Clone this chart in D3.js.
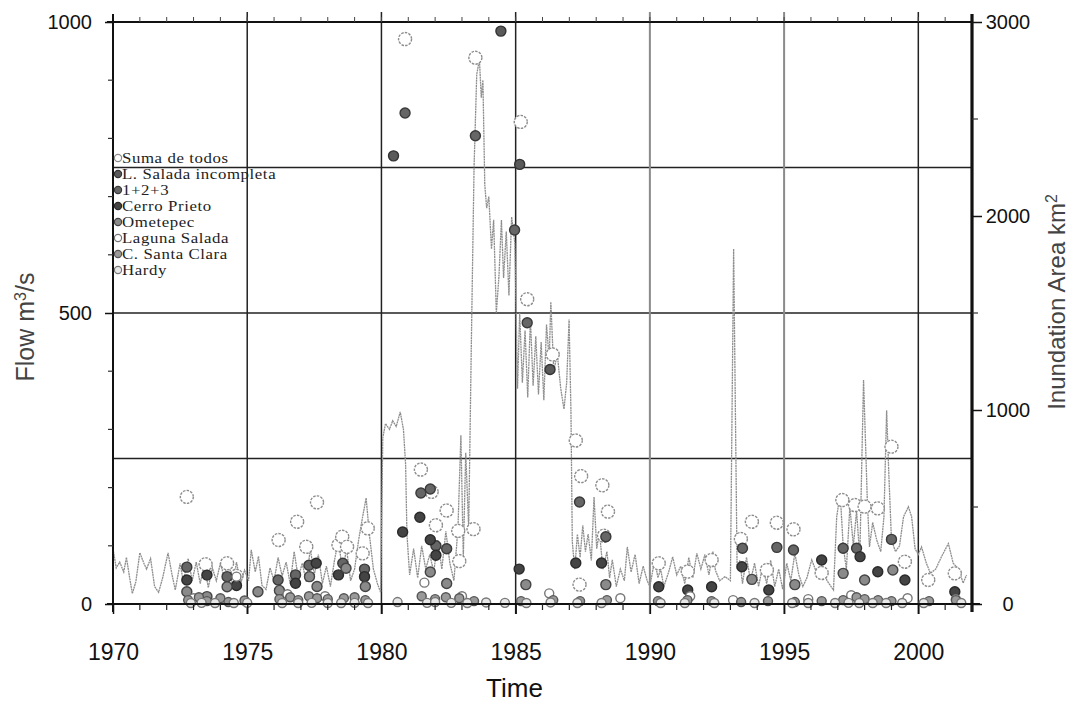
<!DOCTYPE html>
<html>
<head>
<meta charset="utf-8">
<script src="https://cdn.jsdelivr.net/npm/d3@7"></script>
<style>
  html, body { margin: 0; padding: 0; background: #fff; }
  svg { display: block; }
</style>
</head>
<body>
<svg id="chart" width="1073" height="702"></svg>
<script>
// flow (m3/s): [year, flow]
const flow = [
  [1970.00,95],[1970.12,62],[1970.25,72],[1970.40,55],[1970.50,80],[1970.62,45],[1970.72,18],[1970.85,38],
  [1971.00,88],[1971.15,70],[1971.25,60],[1971.40,78],[1971.55,30],[1971.70,20],[1971.85,45],
  [1972.05,88],[1972.20,50],[1972.32,24],[1972.50,70],[1972.62,38],[1972.80,78],[1972.95,40],
  [1973.10,72],[1973.25,35],[1973.40,68],[1973.55,28],[1973.70,62],[1973.85,40],
  [1974.00,70],[1974.15,45],[1974.30,80],[1974.45,30],[1974.60,72],[1974.75,35],[1974.90,58],
  [1975.05,40],[1975.15,93],[1975.30,55],[1975.42,82],[1975.55,32],[1975.70,25],[1975.85,62],
  [1976.00,40],[1976.15,80],[1976.30,48],[1976.45,72],[1976.60,35],[1976.75,90],[1976.90,45],
  [1977.05,70],[1977.20,38],[1977.35,95],[1977.50,50],[1977.65,85],[1977.80,35],[1977.95,65],
  [1978.10,30],[1978.25,75],[1978.40,110],[1978.55,55],[1978.70,95],[1978.85,40],
  [1979.00,60],[1979.15,110],[1979.30,150],[1979.43,182],[1979.55,120],[1979.70,60],[1979.85,35],[1979.97,20],
  [1980.05,285],[1980.15,310],[1980.30,300],[1980.42,315],[1980.55,305],[1980.70,330],[1980.82,300],[1980.90,240],[1980.95,120],
  [1981.05,50],[1981.20,95],[1981.35,45],[1981.50,100],[1981.65,60],[1981.80,85],[1981.95,55],
  [1982.10,110],[1982.25,60],[1982.40,125],[1982.55,70],[1982.70,40],[1982.85,130],[1982.96,290],
  [1983.05,80],[1983.14,260],[1983.25,130],[1983.35,450],[1983.45,750],[1983.55,910],[1983.65,935],[1983.72,870],[1983.78,900],[1983.85,720],[1983.92,680],
  [1984.00,700],[1984.10,610],[1984.18,660],[1984.28,500],[1984.38,565],[1984.47,660],[1984.55,560],[1984.65,640],[1984.75,530],[1984.85,665],[1984.97,620],
  [1985.07,370],[1985.15,500],[1985.25,380],[1985.35,470],[1985.45,355],[1985.55,490],[1985.65,375],[1985.75,460],[1985.85,360],[1985.95,450],
  [1986.05,350],[1986.15,480],[1986.25,420],[1986.31,519],[1986.42,400],[1986.55,430],[1986.68,370],[1986.80,335],[1986.90,380],[1986.99,489],
  [1987.06,330],[1987.11,107],[1987.20,60],[1987.30,120],[1987.40,80],[1987.50,135],[1987.60,90],[1987.70,120],[1987.82,75],[1987.92,184],
  [1988.02,95],[1988.12,125],[1988.25,60],[1988.40,90],[1988.50,45],[1988.60,76],[1988.75,30],[1988.90,60],
  [1989.05,40],[1989.16,98],[1989.30,55],[1989.45,85],[1989.60,35],[1989.75,65],[1989.90,40],
  [1990.00,30],[1990.18,76],[1990.30,45],[1990.40,60],[1990.52,30],[1990.70,55],[1990.85,81],
  [1991.00,50],[1991.15,65],[1991.30,35],[1991.45,80],[1991.60,45],[1991.75,87],[1991.90,60],
  [1992.05,85],[1992.20,50],[1992.35,90],[1992.44,58],[1992.60,40],[1992.80,47],[1993.00,40],
  [1993.12,610],[1993.25,60],[1993.35,75],[1993.45,35],[1993.60,80],[1993.75,40],[1993.90,70],
  [1994.05,30],[1994.20,65],[1994.35,35],[1994.50,75],[1994.65,30],[1994.80,60],[1994.95,25],
  [1995.10,70],[1995.25,40],[1995.40,87],[1995.55,50],[1995.70,30],[1995.85,45],
  [1996.03,76],[1996.20,55],[1996.40,65],[1996.60,40],[1996.75,30],[1996.84,24],[1996.96,150],
  [1997.09,190],[1997.20,100],[1997.32,60],[1997.45,167],[1997.58,100],[1997.70,160],[1997.82,80],[1997.96,385],
  [1998.10,179],[1998.18,98],[1998.30,140],[1998.45,110],[1998.60,90],[1998.72,150],[1998.82,333],[1998.90,225],
  [1999.00,110],[1999.15,90],[1999.30,100],[1999.45,150],[1999.63,167],[1999.75,150],[1999.88,95],
  [2000.00,85],[2000.12,98],[2000.30,70],[2000.45,53],[2000.65,60],[2000.85,80],
  [2001.12,104],[2001.30,70],[2001.50,60],[2001.67,36],[2001.80,50]
];

// inundation area (km2) per water body: [year, area]
const sumaTodos = [
  [1972.75,552],[1973.45,205],[1974.25,210],[1974.6,145],[1976.17,330],[1976.86,424],[1977.2,295],[1977.6,524],
  [1978.4,304],[1978.54,347],[1978.72,295],[1979.3,261],[1979.49,390],[1980.88,2912],[1981.47,693],[1981.87,578],
  [1982.03,406],[1982.43,482],[1982.86,377],[1982.9,221],[1983.43,386],[1983.5,2816],[1985.19,2485],[1985.43,1571],
  [1986.38,1286],[1987.24,843],[1987.44,659],[1988.23,612],[1988.44,476],[1988.29,352],[1987.38,100],[1990.33,210],
  [1991.41,167],[1992.3,227],[1993.39,335],[1993.8,424],[1994.36,175],[1994.73,419],[1995.35,385],[1996.4,160],
  [1997.17,536],[1997.64,510],[1998.0,502],[1998.49,493],[1999.0,811],[1999.5,218],[2000.37,124],[2001.36,158]
];
const lSaladaInc = [[1980.45,2310],[1984.45,2953],[1985.15,2266],[1986.28,1209]];
const uno2y3 = [
  [1972.75,190],[1974.25,141],[1976.15,124],[1976.8,150],[1977.3,200],[1978.56,210],[1979.37,180],
  [1980.88,2531],[1981.47,572],[1981.82,593],[1982.03,300],[1982.43,285],[1983.5,2414],[1984.96,1928],
  [1985.43,1450],[1987.38,526],[1988.36,347],[1993.45,287],[1994.73,292],[1995.35,278],[1997.2,287],
  [1997.7,287],[1999.0,333]
];
const cerroPrieto = [
  [1972.75,124],[1973.5,149],[1974.6,95],[1976.8,107],[1977.57,210],[1978.4,150],[1979.37,141],[1980.79,371],
  [1981.43,447],[1981.82,331],[1982.03,251],[1985.13,180],[1987.24,211],[1988.2,211],[1990.33,89],[1991.41,72],
  [1992.3,89],[1993.43,192],[1994.43,72],[1996.4,227],[1997.83,244],[1998.49,166],[1999.5,124],[2001.36,63]
];
const ometepec = [
  [1972.75,63],[1973.5,38],[1974.25,89],[1975.4,63],[1976.2,70],[1977.32,141],[1977.6,90],[1978.68,184],
  [1979.4,90],[1981.82,165],[1982.43,106],[1985.38,100],[1988.36,100],[1993.8,127],[1995.4,100],[1997.2,158],
  [1998.0,124],[1999.05,175]
];
const lagunaSalada = [
  [1973.0,30],[1974.6,141],[1976.5,50],[1977.9,40],[1981.6,110],[1983.0,40],[1986.25,55],[1988.9,30],
  [1991.5,40],[1993.1,20],[1995.9,25],[1997.5,45],[1999.6,30],[2001.4,25]
];
const cSantaClara = [
  [1972.8,20],[1973.2,35],[1973.5,15],[1974.0,30],[1974.3,10],[1974.9,18],[1976.2,25],[1976.6,35],[1976.9,20],
  [1977.3,40],[1977.6,30],[1978.0,25],[1978.6,30],[1979.0,35],[1979.4,20],[1981.5,40],[1982.0,25],[1982.4,35],
  [1982.9,30],[1983.45,15],[1985.2,15],[1986.4,20],[1987.4,15],[1988.4,20],[1990.3,15],[1991.4,20],[1992.3,15],
  [1993.4,10],[1994.4,15],[1995.4,10],[1996.4,15],[1997.2,20],[1997.7,35],[1998.0,25],[1998.5,20],[1999.0,15],
  [2000.4,15],[2001.4,20]
];
const hardy = [
  [1972.9,5],[1973.3,6],[1973.8,5],[1974.5,5],[1975.0,6],[1976.3,5],[1976.9,5],[1977.4,6],[1978.0,5],[1978.5,5],
  [1979.0,6],[1979.5,5],[1980.6,10],[1981.7,6],[1982.0,10],[1982.6,6],[1983.2,5],[1983.9,8],[1984.6,6],
  [1985.4,5],[1986.3,8],[1987.3,5],[1988.2,5],[1990.4,5],[1991.3,5],[1992.4,5],[1993.9,5],[1995.3,5],
  [1995.9,5],[1996.9,5],[1997.4,6],[1997.8,5],[1998.3,5],[1998.8,5],[1999.4,5],[2000.2,5],[2001.6,5]
];

const seriesNames = ["Suma de todos","L. Salada incompleta","1+2+3","Cerro Prieto","Ometepec","Laguna Salada","C. Santa Clara","Hardy"];
const seriesData = [sumaTodos, lSaladaInc, uno2y3, cerroPrieto, ometepec, lagunaSalada, cSantaClara, hardy];
// marker look per series
const seriesFill = ["#fff","#5a5a5a","#666","#444","#8a8a8a","#fff","#9a9a9a","#e8e8e8"];
const seriesStroke = ["#8c8c8c","#333","#3a3a3a","#2a2a2a","#444","#777","#555","#777"];
const seriesR = [6.5,5,5,5,5,4.5,4.5,4.5];

const flowTicks = [0, 500, 1000];
const areaTicks = [0, 1000, 2000, 3000];
const yearTicks = [1970, 1975, 1980, 1985, 1990, 1995, 2000];

const svg = d3.select("#chart");
const plotL = 113, plotR = 972, plotT = 22, plotB = 604;

const x = d3.scaleLinear().domain([1970, 2002]).range([plotL, plotR]);
const yFlow = d3.scaleLinear().domain([0, 1000]).range([plotB, plotT]);
const yArea = d3.scaleLinear().domain([0, 3000]).range([plotB, plotT]);

const numFont = "'Liberation Sans',Arial,Helvetica,sans-serif";

// grid
svg.append("g").selectAll("line").data([250, 500, 750]).join("line")
  .attr("x1", plotL).attr("x2", plotR)
  .attr("y1", d => yFlow(d)).attr("y2", d => yFlow(d))
  .attr("stroke", "#222").attr("stroke-width", 1.5);
svg.append("g").selectAll("line").data(yearTicks.slice(1)).join("line")
  .attr("x1", d => x(d)).attr("x2", d => x(d))
  .attr("y1", plotT - 10).attr("y2", plotB + 10)
  .attr("stroke", d => (d === 1990 || d === 1995) ? "#8a8a8a" : "#222")
  .attr("stroke-width", d => (d === 1990 || d === 1995) ? 2 : 1.5);

// flow trace
const line = d3.line().x(d => x(d[0])).y(d => yFlow(d[1]));
svg.append("path").datum(flow)
  .attr("fill", "none").attr("stroke", "#8e8e8e").attr("stroke-width", 1.3)
  .attr("stroke-dasharray", "2,0.6")
  .attr("d", line);

// markers
seriesData.forEach((data, i) => {
  svg.append("g").selectAll("circle").data(data).join("circle")
    .attr("cx", d => x(d[0])).attr("cy", d => yArea(d[1]))
    .attr("r", seriesR[i])
    .attr("fill", seriesFill[i])
    .attr("stroke", seriesStroke[i])
    .attr("stroke-width", 1.4)
    .attr("stroke-dasharray", i === 0 ? "2.5,1.2" : null);
});

// frame
const axisG = svg.append("g").attr("stroke", "#111");
axisG.append("line").attr("x1", plotL).attr("x2", plotL).attr("y1", plotT - 8).attr("y2", plotB + 8).attr("stroke-width", 2);
axisG.append("line").attr("x1", plotL - 6).attr("x2", plotR + 8).attr("y1", plotB).attr("y2", plotB).attr("stroke-width", 2.2);
axisG.append("line").attr("x1", plotL - 6).attr("x2", plotR).attr("y1", plotT).attr("y2", plotT).attr("stroke-width", 2);
axisG.append("line").attr("x1", plotR).attr("x2", plotR).attr("y1", plotT - 8).attr("y2", plotB + 8).attr("stroke-width", 3.2);

// bottom axis
const xAxis = d3.axisBottom(x).tickValues(yearTicks).tickSize(10).tickFormat(d3.format("d"));
const gx = svg.append("g").attr("transform", `translate(0,${plotB})`).call(xAxis);
gx.select(".domain").remove();
gx.selectAll(".tick line").attr("stroke", "#111").attr("stroke-width", 1.5);
gx.selectAll(".tick text").attr("dy", 0).attr("y", 56)
  .attr("font-family", numFont).attr("font-size", 23).attr("fill", "#111");
const yearsMinor = d3.range(1971, 2003).filter(d => d % 5 !== 0);
svg.append("g").selectAll("line").data(yearsMinor).join("line")
  .attr("x1", d => x(d)).attr("x2", d => x(d))
  .attr("y1", plotB).attr("y2", plotB + 6)
  .attr("stroke", "#222").attr("stroke-width", 1.2);
svg.append("g").selectAll("line").data(d3.range(1971, 2002)).join("line")
  .attr("x1", d => x(d)).attr("x2", d => x(d))
  .attr("y1", plotT).attr("y2", plotT - 5)
  .attr("stroke", "#444").attr("stroke-width", 1);

// left axis
const yAxisL = d3.axisLeft(yFlow).tickValues(flowTicks).tickSize(8).tickFormat(d3.format("d"));
const gl = svg.append("g").attr("transform", `translate(${plotL},0)`).call(yAxisL);
gl.select(".domain").remove();
gl.selectAll(".tick line").attr("stroke", "#111").attr("stroke-width", 1.5);
gl.selectAll(".tick text").attr("x", -21)
  .attr("font-family", numFont).attr("font-size", 20).attr("fill", "#111");
svg.append("g").selectAll("line").data(d3.range(100, 1000, 100).filter(d => d !== 500)).join("line")
  .attr("x1", plotL - 5).attr("x2", plotL)
  .attr("y1", d => yFlow(d)).attr("y2", d => yFlow(d))
  .attr("stroke", "#333").attr("stroke-width", 1.2);

// right axis
const yAxisR = d3.axisRight(yArea).tickValues(areaTicks).tickSize(10).tickFormat(d3.format("d"));
const gr = svg.append("g").attr("transform", `translate(${plotR},0)`).call(yAxisR);
gr.select(".domain").remove();
gr.selectAll(".tick line").attr("stroke", "#111").attr("stroke-width", 1.5);
gr.selectAll(".tick text").attr("x", 36).attr("text-anchor", "middle")
  .attr("font-family", numFont).attr("font-size", 20).attr("fill", "#111");
svg.append("g").selectAll("line").data([500, 1500, 2500]).join("line")
  .attr("x1", plotR).attr("x2", plotR + 6)
  .attr("y1", d => yArea(d)).attr("y2", d => yArea(d))
  .attr("stroke", "#333").attr("stroke-width", 1.2);

// titles
svg.append("text").attr("x", (plotL + plotR) / 2 - 28).attr("y", 697)
  .attr("text-anchor", "middle").attr("font-family", numFont).attr("font-size", 26).attr("fill", "#111")
  .text("Time");
svg.append("text").attr("transform", "translate(34,327) rotate(-90)")
  .attr("text-anchor", "middle").attr("font-family", numFont).attr("font-size", 25).attr("fill", "#444")
  .html("Flow m<tspan baseline-shift='super' font-size='16'>3</tspan>/s");
svg.append("text").attr("transform", "translate(1065,302) rotate(-90)")
  .attr("text-anchor", "middle").attr("font-family", numFont).attr("font-size", 24).attr("fill", "#444")
  .html("Inundation Area km<tspan baseline-shift='super' font-size='16'>2</tspan>");

// legend
const legend = svg.append("g").attr("font-family", "'Liberation Serif','Times New Roman',serif")
  .attr("font-size", 14).attr("fill", "#222").attr("letter-spacing", 0.5);
seriesNames.forEach((name, i) => {
  const ly = 158 + i * 16;
  legend.append("circle").attr("cx", 118).attr("cy", ly)
    .attr("r", 3.6).attr("fill", seriesFill[i]).attr("stroke", seriesStroke[i]).attr("stroke-width", 1.2);
  legend.append("text").attr("transform", `translate(122,${ly + 5}) scale(1.2,1)`).text(name);
});
</script>
</body>
</html>
